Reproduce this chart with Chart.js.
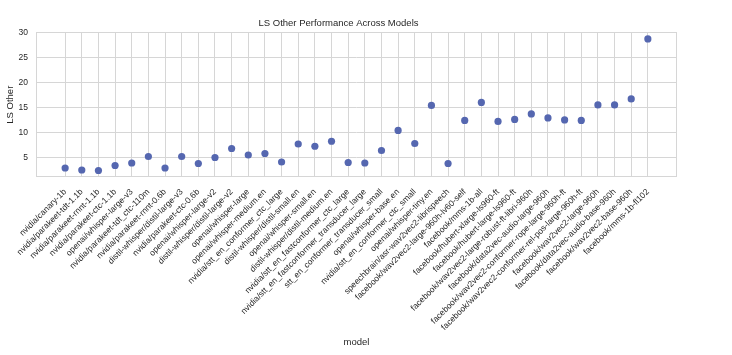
<!DOCTYPE html>
<html>
<head>
<meta charset="utf-8">
<style>
  html, body { margin: 0; padding: 0; background: #ffffff; }
  canvas { display: block; }
</style>
<script src="https://cdn.jsdelivr.net/npm/chart.js@4.4.1/dist/chart.umd.min.js"></script>
</head>
<body>
<canvas id="c" width="732" height="355"></canvas>
<script>
const categories = [
  "nvidia/canary-1b",
  "nvidia/parakeet-tdt-1.1b",
  "nvidia/parakeet-rnnt-1.1b",
  "nvidia/parakeet-ctc-1.1b",
  "openai/whisper-large-v3",
  "nvidia/parakeet-tdt_ctc-110m",
  "nvidia/parakeet-rnnt-0.6b",
  "distil-whisper/distil-large-v3",
  "nvidia/parakeet-ctc-0.6b",
  "openai/whisper-large-v2",
  "distil-whisper/distil-large-v2",
  "openai/whisper-large",
  "openai/whisper-medium.en",
  "nvidia/stt_en_conformer_ctc_large",
  "distil-whisper/distil-small.en",
  "openai/whisper-small.en",
  "distil-whisper/distil-medium.en",
  "nvidia/stt_en_fastconformer_ctc_large",
  "nvidia/stt_en_fastconformer_transducer_large",
  "stt_en_conformer_transducer_small",
  "openai/whisper-base.en",
  "nvidia/stt_en_conformer_ctc_small",
  "openai/whisper-tiny.en",
  "speechbrain/asr-wav2vec2-librispeech",
  "facebook/wav2vec2-large-960h-lv60-self",
  "facebook/mms-1b-all",
  "facebook/hubert-xlarge-ls960-ft",
  "facebook/hubert-large-ls960-ft",
  "facebook/wav2vec2-large-robust-ft-libri-960h",
  "facebook/data2vec-audio-large-960h",
  "facebook/wav2vec2-conformer-rope-large-960h-ft",
  "facebook/wav2vec2-conformer-rel-pos-large-960h-ft",
  "facebook/wav2vec2-large-960h",
  "facebook/data2vec-audio-base-960h",
  "facebook/wav2vec2-base-960h",
  "facebook/mms-1b-fl102"
];

const lsOther = [
  2.9, 2.5, 2.4, 3.4, 3.9, 5.2, 2.9, 5.2, 3.8, 5.0,
  6.8, 5.5, 5.8, 4.1, 7.7, 7.25, 8.25, 4.0, 3.9, 6.4,
  10.4, 7.8, 15.4, 3.8, 12.4, 16.0, 12.2, 12.6, 13.7, 12.9,
  12.5, 12.4, 15.5, 15.5, 16.7, 28.7
];

const yTicks = [5, 10, 15, 20, 25, 30];

const titleText = "LS Other Performance Across Models";
const xTitle = "model";
const yTitle = "LS Other";

const FONT = "'Liberation Sans', Arial, Helvetica, sans-serif";
const TEXT = "#262626";
const GRID = "#d6d6d6";
const POINT = "#5567b0";

const frame = {
  id: "frame",
  afterDraw(chart) {
    const a = chart.chartArea;
    const ctx = chart.ctx;
    ctx.save();
    ctx.strokeStyle = GRID;
    ctx.lineWidth = 1;
    ctx.strokeRect(Math.round(a.left) + 0.5, Math.round(a.top) + 0.5,
                   Math.round(a.right - a.left) - 1, Math.round(a.bottom - a.top) - 1);
    ctx.restore();
  }
};

new Chart(document.getElementById("c"), {
  type: "scatter",
  data: {
    datasets: [{
      label: yTitle,
      data: lsOther.map((v, i) => ({ x: i, y: v })),
      backgroundColor: POINT,
      borderColor: POINT,
      borderWidth: 0,
      pointRadius: 3.6,
      pointHoverRadius: 3.6
    }]
  },
  options: {
    responsive: false,
    animation: false,
    devicePixelRatio: 1,
    layout: { padding: { left: 0, right: 55, top: 0, bottom: 0 } },
    plugins: {
      legend: { display: false },
      tooltip: { enabled: false },
      title: {
        display: true,
        text: titleText,
        color: TEXT,
        font: { family: FONT, size: 9.5, weight: "normal" },
        padding: { top: 18, bottom: 3 }
      }
    },
    scales: {
      x: {
        type: "linear",
        min: -1.75,
        max: 36.75,
        border: { display: false },
        grid: { color: GRID, lineWidth: 1, drawTicks: false },
        afterBuildTicks: (s) => { s.ticks = categories.map((c, i) => ({ value: i })); },
        afterFit: (s) => { s.height = 355 - 177; },
        ticks: {
          autoSkip: false,
          minRotation: 45,
          maxRotation: 45,
          padding: 10,
          color: TEXT,
          font: { family: FONT, size: 8.5 },
          callback: (v) => categories[v]
        },
        title: {
          display: true,
          text: xTitle,
          color: TEXT,
          font: { family: FONT, size: 9.5 },
          padding: { top: 4, bottom: 7 }
        }
      },
      y: {
        type: "linear",
        min: 1.1,
        max: 30,
        border: { display: false },
        grid: { color: GRID, lineWidth: 1, drawTicks: false },
        afterBuildTicks: (s) => { s.ticks = yTicks.map(v => ({ value: v })); },
        afterFit: (s) => { s.width = 36; },
        ticks: {
          padding: 8,
          color: TEXT,
          font: { family: FONT, size: 8.5 }
        },
        title: {
          display: true,
          text: yTitle,
          color: TEXT,
          font: { family: FONT, size: 9.5 },
          padding: { top: 5, bottom: 0 }
        }
      }
    }
  },
  plugins: [frame]
});
</script>
</body>
</html>
